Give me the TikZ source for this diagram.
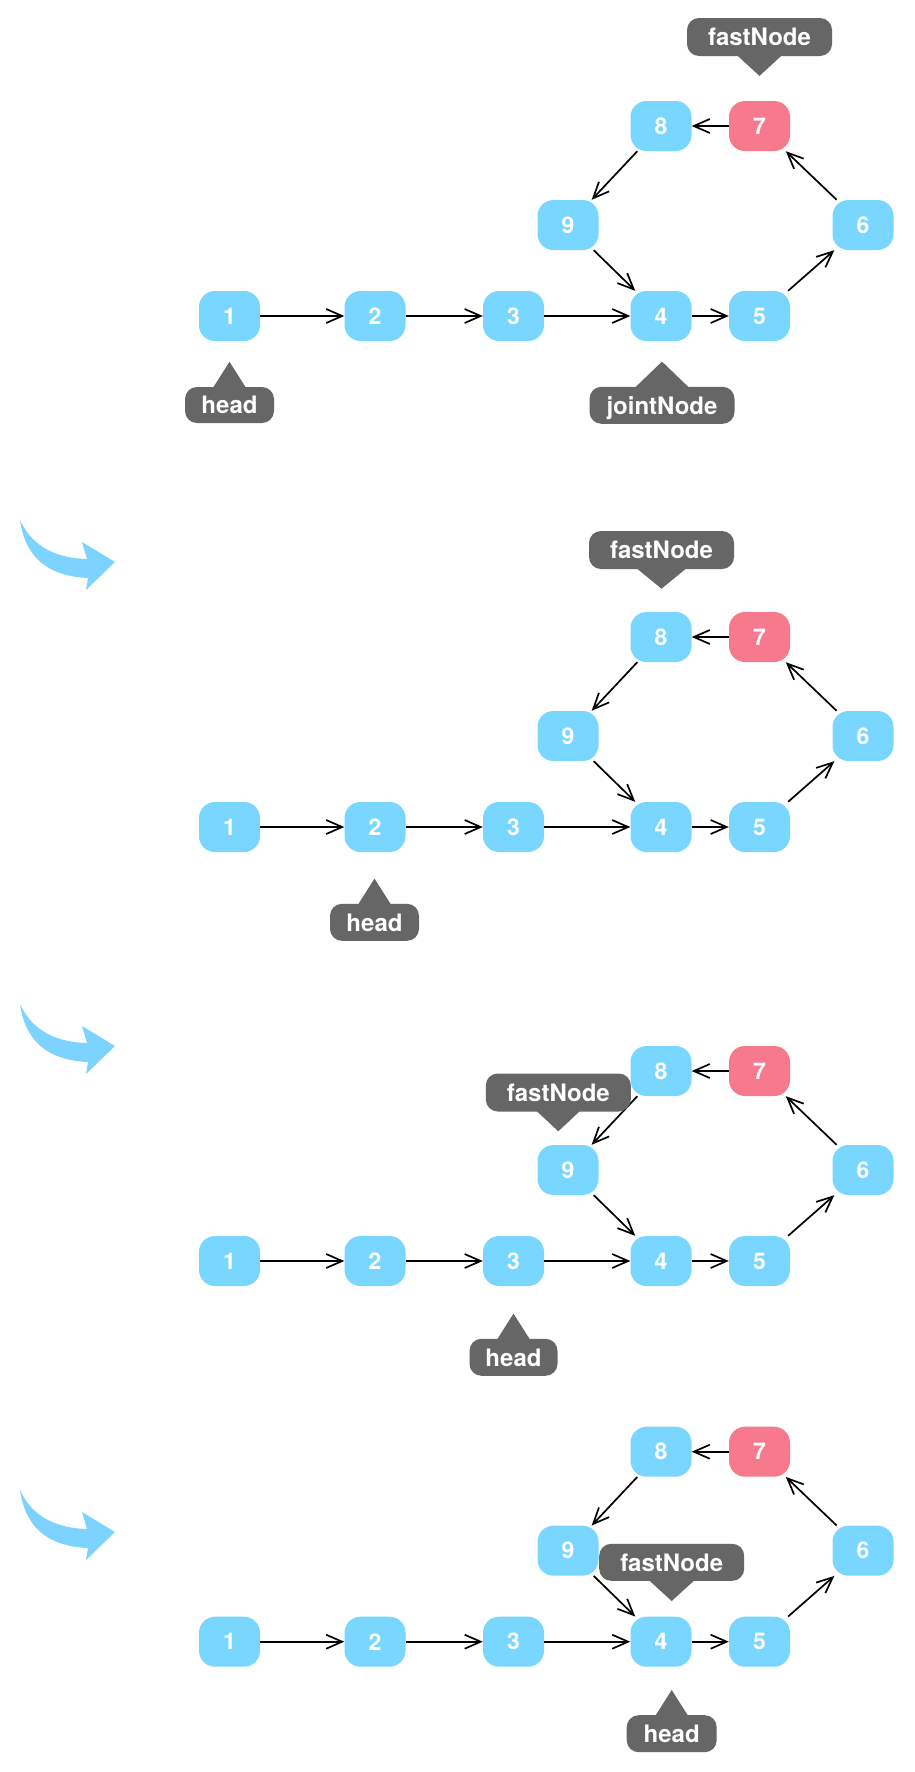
\documentclass[tikz,border=0pt]{standalone}
\usepackage{fontspec}
\setmainfont{TeX Gyre Heros}
\usetikzlibrary{arrows.meta}
\definecolor{nblue}{HTML}{78D6FF}
\definecolor{nred}{HTML}{F6798C}
\definecolor{lgray}{HTML}{666666}
\definecolor{cblue}{HTML}{7DD3FF}
\begin{document}
\begin{tikzpicture}[x=1pt,y=-1pt,
  lnode/.style={rectangle, rounded corners=16pt, minimum width=61pt, minimum height=50pt,
    inner sep=0pt, fill=nblue, text=white, font=\bfseries\fontsize{23}{23}\selectfont},
  rnode/.style={lnode, fill=nred},
  tag/.style={rectangle, rounded corners=12pt, minimum height=37pt, inner sep=0pt,
    fill=lgray, text=white, font=\bfseries\fontsize{24}{24}\selectfont,
    text height=17.5pt, text depth=0pt},
  link/.style={draw=black, line width=1.7pt, -{Straight Barb[length=16pt,width=14pt]}},
  curvearrow/.style={fill=cblue}]
\fill[white] (0,0) rectangle (914,1772);
\useasboundingbox (0,0) rectangle (914,1772);

% four panels of the list
\foreach \dy/\p in {0/a,511/b,945/c,1325.7/d}{
  \begin{scope}[shift={(0,\dy)}]
    \node[lnode] (\p1) at (229.5,316) {1};
    \node[lnode] (\p2) at (375,316) {2};
    \node[lnode] (\p3) at (513.5,316) {3};
    \node[lnode] (\p4) at (661,316) {4};
    \node[lnode] (\p5) at (759.5,316) {5};
    \node[lnode] (\p6) at (863,225) {6};
    \node[rnode] (\p7) at (759.5,126) {7};
    \node[lnode] (\p8) at (661,126) {8};
    \node[lnode] (\p9) at (568,225) {9};
    \draw[link] (\p1) -- (\p2);
    \draw[link] (\p2) -- (\p3);
    \draw[link] (\p3) -- (\p4);
    \draw[link] (\p4) -- (\p5);
    \draw[link] (\p5) -- (\p6);
    \draw[link] (\p6) -- (\p7);
    \draw[link] (\p7) -- (\p8);
    \draw[link] (\p8) -- (\p9);
    \draw[link] (\p9) -- (\p4);
  \end{scope}
}

% curved transition arrows
\foreach \ty in {520,1004,1490}{
  \fill[curvearrow, shift={(20,\ty)}] (0,0) .. controls (10,22) and (30,38) .. (67,39)
    -- (62,22) -- (95,42) -- (66,70) -- (68,58)
    .. controls (25,56) and (5,35) .. (0,0) -- cycle;
}

% panel 1 labels
\node[tag, minimum width=145pt, minimum height=38pt] (fa) at (759.5,37) {fastNode};
\fill[lgray] ([xshift=-22.5pt,yshift=1pt]fa.south) -- ([xshift=22.5pt,yshift=1pt]fa.south) -- ++(-22.5,20.7) -- cycle;
\node[tag, minimum width=89pt, minimum height=36pt] (ha) at (229.5,405) {head};
\fill[lgray] ([xshift=-16.5pt,yshift=-1pt]ha.north) -- ([xshift=16.5pt,yshift=-1pt]ha.north) -- ++(-16.5,-26) -- cycle;
\node[tag, minimum width=145pt] (ja) at (662,405.3) {jointNode};
\fill[lgray] ([xshift=-27pt,yshift=-1pt]ja.north) -- ([xshift=27pt,yshift=-1pt]ja.north) -- ++(-27,-26) -- cycle;

% panel 2 labels
\node[tag, minimum width=145pt, minimum height=38pt] (fb) at (661.5,550) {fastNode};
\fill[lgray] ([xshift=-25pt,yshift=1pt]fb.south) -- ([xshift=25pt,yshift=1pt]fb.south) -- ++(-25,20.5) -- cycle;
\node[tag, minimum width=89pt] (hb) at (374.5,922.3) {head};
\fill[lgray] ([xshift=-16.5pt,yshift=-1pt]hb.north) -- ([xshift=16.5pt,yshift=-1pt]hb.north) -- ++(-16.5,-26) -- cycle;

% panel 3 labels
\node[tag, minimum width=145pt, minimum height=38pt] (fc) at (558.3,1092.5) {fastNode};
\fill[lgray] ([xshift=-22pt,yshift=1pt]fc.south) -- ([xshift=22pt,yshift=1pt]fc.south) -- ++(-22,20.6) -- cycle;
\node[tag, minimum width=88pt] (hc) at (513.5,1357.3) {head};
\fill[lgray] ([xshift=-16.5pt,yshift=-1pt]hc.north) -- ([xshift=16.5pt,yshift=-1pt]hc.north) -- ++(-16.5,-26) -- cycle;

% panel 4 labels
\node[tag, minimum width=145pt] (fd) at (671.7,1562.3) {fastNode};
\fill[lgray] ([xshift=-23pt,yshift=1pt]fd.south) -- ([xshift=23pt,yshift=1pt]fd.south) -- ++(-23,21) -- cycle;
\node[tag, minimum width=90pt] (hd) at (671.7,1733.7) {head};
\fill[lgray] ([xshift=-16.5pt,yshift=-1pt]hd.north) -- ([xshift=16.5pt,yshift=-1pt]hd.north) -- ++(-16.5,-26) -- cycle;
\end{tikzpicture}
\end{document}
